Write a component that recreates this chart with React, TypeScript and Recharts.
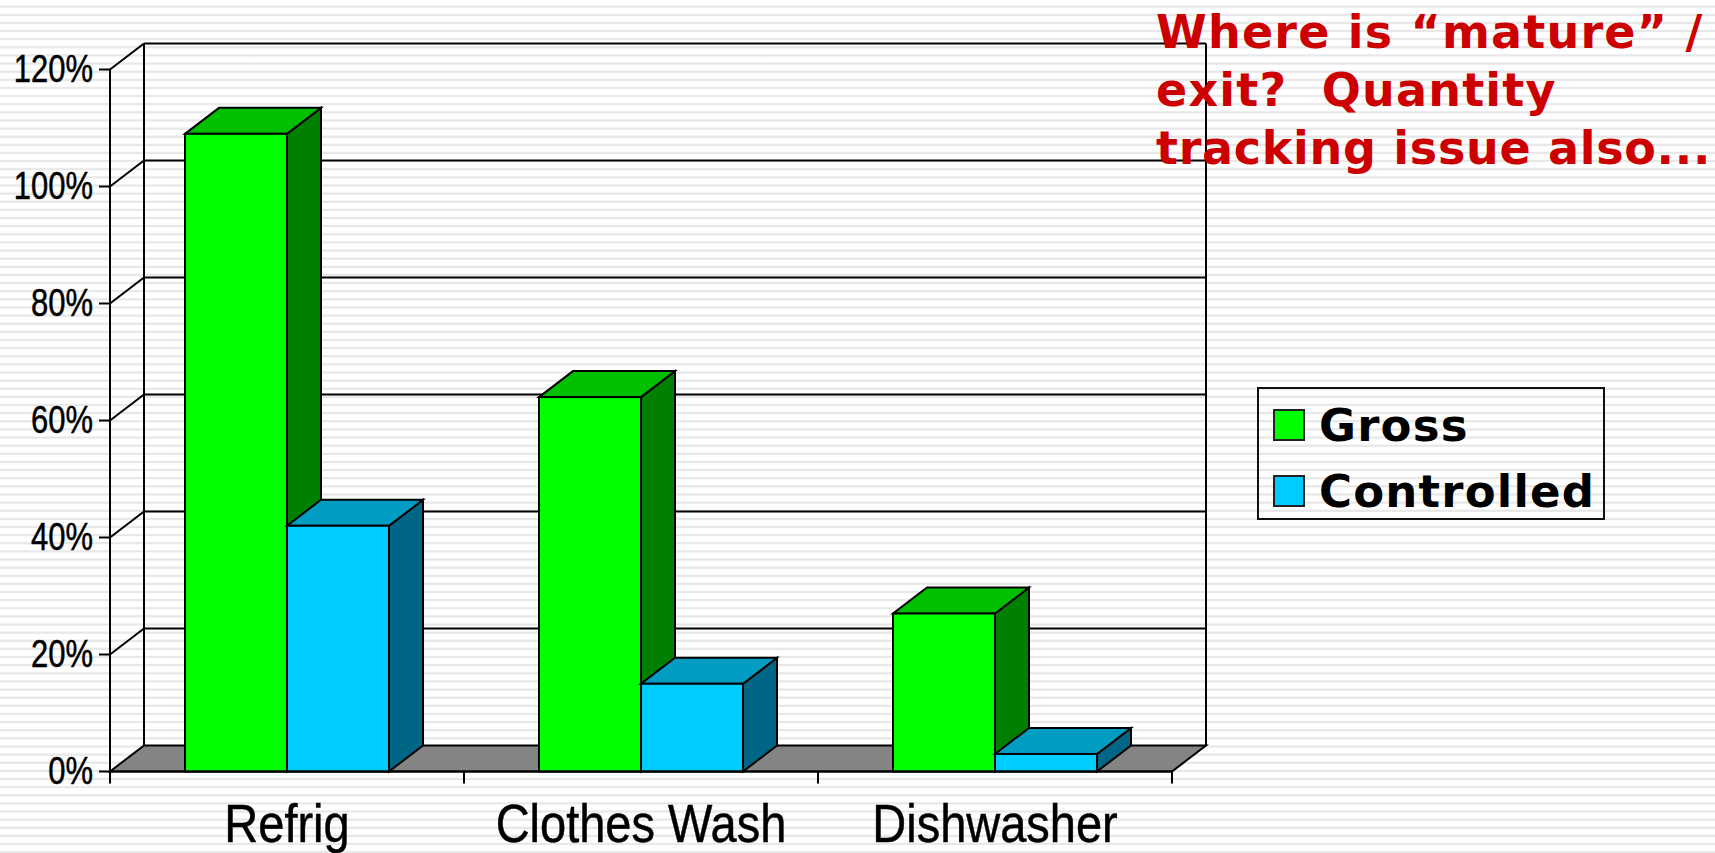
/** 3D-look clustered bars: gross vs controlled by appliance. */

import { BarChart, Bar, XAxis, YAxis, CartesianGrid, Legend } from 'recharts'

const CATEGORIES = ['Refrig', 'Clothes Wash', 'Dishwasher']
const GROSS = [109, 64, 27]
const CONTROLLED = [42, 15, 3]
const Y_TICKS = [0, 20, 40, 60, 80, 100, 120]
const NOTE_LINES = ['Where is “mature” /', 'exit?  Quantity', 'tracking issue also...']

const rows = CATEGORIES.map((name, i) => ({ name, Gross: GROSS[i], Controlled: CONTROLLED[i] }))

// Depth of the fake 3D projection
const DX = 34
const DY = 26
const X_TICK_LEN = 12

function Box3D(props: any, topFill: string, sideFill: string) {
  const { x, y, width, height, fill } = props
  const r = x + width
  const b = y + height
  return (
    <g stroke="#000" strokeWidth={2} strokeLinejoin="miter">
      <polygon points={`${r},${y} ${r + DX},${y - DY} ${r + DX},${b - DY} ${r},${b}`} fill={sideFill} />
      <polygon points={`${x},${y} ${x + DX},${y - DY} ${r + DX},${y - DY} ${r},${y}`} fill={topFill} />
      <rect x={x} y={y} width={width} height={height} fill={fill} />
    </g>
  )
}

// Each grid line folds back along the side wall; floor and walls hang off the first and last line
function WallLine(props: any) {
  const { x1, x2, y1, x, y, width, height } = props
  const right = x + width
  const bottom = y + height
  const isBottom = Math.abs(y1 - bottom) < 1
  const isTop = Math.abs(y1 - y) < 1
  const band = width / CATEGORIES.length
  return (
    <g stroke="#000" strokeWidth={2} fill="none">
      {isBottom && (
        <polygon
          points={`${x},${bottom} ${x + DX},${bottom - DY} ${right + DX},${bottom - DY} ${right},${bottom}`}
          fill="#848484"
        />
      )}
      {/* x ticks sit on the band edges, not the band centres */}
      {isBottom &&
        [0, ...CATEGORIES.map((_, i) => i + 1)].map((i) => (
          <line key={i} x1={x + i * band} y1={bottom} x2={x + i * band} y2={bottom + X_TICK_LEN} />
        ))}
      {isTop && (
        <>
          <line x1={x + DX} y1={y - DY} x2={x + DX} y2={bottom - DY} />
          <line x1={right + DX} y1={y - DY} x2={right + DX} y2={bottom - DY} />
        </>
      )}
      {!isBottom && <line x1={x1} y1={y1} x2={x1 + DX} y2={y1 - DY} />}
      {!isBottom && <line x1={x1 + DX} y1={y1 - DY} x2={x2 + DX} y2={y1 - DY} />}
    </g>
  )
}

// No narrow font is installed, so squeeze Liberation Sans horizontally
function NarrowTick({ x, y, payload, fontSize, dy, squeeze, anchor, format }: any) {
  return (
    <text
      transform={`translate(${x},${y + dy}) scale(${squeeze},1)`}
      textAnchor={anchor}
      fontSize={fontSize}
      fontFamily='"Liberation Sans", sans-serif'
      fill="#000"
      stroke="#000"
      strokeWidth={0.5}
    >
      {format ? format(payload.value) : payload.value}
    </text>
  )
}

function LegendBox({ payload }: any) {
  return (
    <div
      style={{
        boxSizing: 'border-box',
        width: 348,
        height: 133,
        border: '2px solid #111',
        paddingTop: 3,
        fontFamily: '"DejaVu Sans", sans-serif',
        fontWeight: 700,
        fontSize: 45,
        letterSpacing: 1.2,
      }}
    >
      {(payload ?? []).map((p: any) => (
        <div key={p.value} style={{ display: 'flex', alignItems: 'center', height: 66, color: '#000' }}>
          <span
            style={{
              boxSizing: 'border-box',
              width: 32,
              height: 32,
              marginLeft: 14,
              marginRight: 14,
              background: p.color,
              border: '2px solid #222',
            }}
          />
          {p.value}
        </div>
      ))}
    </div>
  )
}

export default function App() {
  return (
    <div
      style={{
        position: 'fixed',
        left: 0,
        top: 0,
        width: 1715,
        height: 853,
        overflow: 'hidden',
        background:
          'repeating-linear-gradient(to bottom, #fff 0, #fff 5px, #e8e8e8 6px, #e8e8e8 7.4px, #fff 8.13px)',
      }}
    >
      <BarChart
        width={1715}
        height={853}
        data={rows}
        margin={{ top: 69.5, right: 543, left: 0, bottom: 0 }}
        barSize={102}
        barGap={0}
      >
        <CartesianGrid horizontal={WallLine} vertical={false} />
        <XAxis
          dataKey="name"
          height={81.5}
          interval={0}
          tickSize={X_TICK_LEN}
          tickMargin={8}
          axisLine={{ stroke: '#000', strokeWidth: 2 }}
          tickLine={false}
          tick={(p: any) => <NarrowTick {...p} fontSize={54} dy={50} squeeze={0.87} anchor="middle" />}
        />
        <YAxis
          width={110}
          domain={[0, 120]}
          ticks={Y_TICKS}
          tickSize={11}
          tickMargin={6}
          axisLine={{ stroke: '#000', strokeWidth: 2 }}
          tickLine={{ stroke: '#000', strokeWidth: 2 }}
          tick={(p: any) => (
            <NarrowTick {...p} fontSize={38} dy={12} squeeze={0.815} anchor="end" format={(v: number) => `${v}%`} />
          )}
        />
        <Legend
          layout="vertical"
          align="center"
          verticalAlign="middle"
          itemSorter={null}
          content={<LegendBox />}
          wrapperStyle={{ left: 1257, top: 387, width: 348, right: 'auto', bottom: 'auto' }}
        />
        <Bar
          dataKey="Gross"
          fill="#00ff00"
          isAnimationActive={false}
          shape={(p: any) => Box3D(p, '#00c000', '#008000')}
        />
        <Bar
          dataKey="Controlled"
          fill="#00ccff"
          isAnimationActive={false}
          shape={(p: any) => Box3D(p, '#009cc2', '#006685')}
        />
      </BarChart>
      <div
        style={{
          position: 'absolute',
          left: 1156,
          top: 3,
          color: '#cc0000',
          fontFamily: '"DejaVu Sans", sans-serif',
          fontWeight: 700,
          fontSize: 46,
          lineHeight: '58px',
          whiteSpace: 'pre',
        }}
      >
        {NOTE_LINES.map((line, i) => (
          <div key={line} style={{ letterSpacing: i === 2 ? 0.7 : 1.2 }}>
            {line}
          </div>
        ))}
      </div>
    </div>
  )
}
